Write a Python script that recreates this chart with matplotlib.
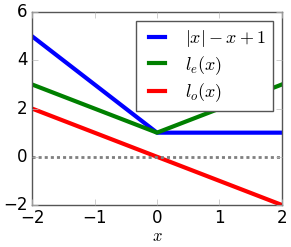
import matplotlib
matplotlib.use("Agg")
import matplotlib.pyplot as plt

plt.style.use("classic")
plt.rcParams["mathtext.fontset"] = "cm"
plt.rcParams["font.family"] = ["DejaVu Sans"]

# data
xs = [-2, 0, 2]
abs_line = [5, 1, 1]   # |x| - x + 1
even_part = [3, 1, 3]  # l_e(x)
odd_part = [2, 0, -2]  # l_o(x)
x_ticks = [-2, -1, 0, 1, 2]
y_ticks = [-2, 0, 2, 4, 6]

fig = plt.figure(figsize=(2.91, 2.47), dpi=100, facecolor="white")
ax = fig.add_axes([0.110, 0.170, 0.859, 0.781])

ax.plot(xs, abs_line, color="b", linewidth=3, label=r"$|x| - x + 1$")
ax.plot(xs, even_part, color="g", linewidth=3, label=r"$l_e(x)$")
ax.plot(xs, odd_part, color="r", linewidth=3, label=r"$l_o(x)$")
ax.axhline(0, color="gray", linestyle=(0, (2.2, 2.2)), linewidth=2)

ax.set_xlim(-2, 2)
ax.set_ylim(-2, 6)
ax.set_xticks(x_ticks)
ax.set_yticks(y_ticks)
ax.tick_params(labelsize=12, colors="#bbbbbb", labelcolor="black", pad=3)
for sp in ax.spines.values():
    sp.set_color("#555555")

ax.set_xlabel(r"$x$", fontsize=12, labelpad=0)
leg = ax.legend(loc="upper right", fontsize=13, handlelength=1.5,
                handletextpad=0.8, borderaxespad=0.5, labelspacing=0.25)
leg.get_frame().set_edgecolor("#555555")

fig.savefig("out.png", dpi=100, facecolor="white")
